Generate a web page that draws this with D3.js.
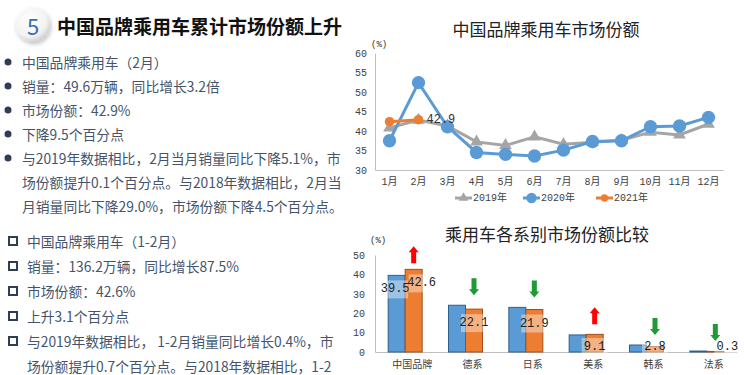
<!DOCTYPE html>
<html>
<head>
<meta charset="utf-8">
<script src="https://cdn.jsdelivr.net/npm/d3@7"></script>
<style>
  body { margin: 0; background: #fff; }
  svg { display: block; }
</style>
</head>
<body>
<div id="chart"></div>
<script>
// ---- data ----
var months = ["1月", "2月", "3月", "4月", "5月", "6月", "7月", "8月", "9月", "10月", "11月", "12月"];
var share2019 = [40.8, 42.8, 41.3, 37.2, 36.3, 38.5, 36.6, 37.1, 37.6, 39.7, 39.0, 41.8];
var share2020 = [37.5, 52.4, 41.1, 34.5, 34.0, 33.6, 35.1, 37.3, 37.5, 41.1, 41.3, 43.5];
var share2021 = [42.4, 42.9];
var lineTicks = [30, 35, 40, 45, 50, 55, 60];

var brands = ["中国品牌", "德系", "日系", "美系", "韩系", "法系"];
var prevShare = [39.5, 24.1, 23.0, 8.8, 3.6, 0.5];
var currShare = [42.6, 22.1, 21.9, 9.1, 2.8, 0.3];
var barTicks = [0, 10, 20, 30, 40, 50];

var bullets1 = ["中国品牌乘用车（2月）", "销量：49.6万辆，同比增长3.2倍", "市场份额：42.9%", "下降9.5个百分点",
  "与2019年数据相比，2月当月销量同比下降5.1%，市", "场份额提升0.1个百分点。与2018年数据相比，2月当", "月销量同比下降29.0%，市场份额下降4.5个百分点。"];
var bullets2 = ["中国品牌乘用车（1-2月）", "销量：136.2万辆，同比增长87.5%", "市场份额：42.6%", "上升3.1个百分点",
  "与2019年数据相比， 1-2月销量同比增长0.4%，市", "场份额提升0.7个百分点。与2018年数据相比，1-2"];
var bulletMark1 = [1, 1, 1, 1, 1, 0, 0];
var bulletMark2 = [1, 1, 1, 1, 1, 0];

var blue = "#5B9BD5", orange = "#ED7D31", gray = "#A5A5A5";
var cjk = "'Noto Sans CJK SC', 'Noto Sans', sans-serif";
var mono = "'Liberation Mono', 'Noto Sans CJK SC', monospace";

var svg = d3.select("#chart").append("svg")
    .attr("width", 744)
    .attr("height", 375);

// ---- left panel ----
var defs = svg.append("defs");
var grad = defs.append("radialGradient").attr("id", "ball").attr("cx", "40%").attr("cy", "35%").attr("r", "70%");
grad.append("stop").attr("offset", "0%").attr("stop-color", "#ffffff");
grad.append("stop").attr("offset", "70%").attr("stop-color", "#f2f2f2");
grad.append("stop").attr("offset", "100%").attr("stop-color", "#c8c8c8");
var shadow = defs.append("filter").attr("id", "sh").attr("x", "-50%").attr("y", "-50%").attr("width", "200%").attr("height", "200%");
shadow.append("feDropShadow").attr("dx", 1).attr("dy", 2).attr("stdDeviation", 2).attr("flood-color", "#000").attr("flood-opacity", 0.25);

svg.append("circle").attr("cx", 33).attr("cy", 25).attr("r", 17)
    .attr("fill", "url(#ball)").attr("filter", "url(#sh)");
svg.append("text").attr("x", 33).attr("y", 25)
    .attr("text-anchor", "middle").attr("dominant-baseline", "central")
    .attr("font-family", cjk).attr("font-size", 22).attr("fill", "#3B6FA8")
    .text("5");
svg.append("text").attr("x", 57).attr("y", 25)
    .attr("dominant-baseline", "central")
    .attr("font-family", cjk).attr("font-size", 19).attr("font-weight", "bold").attr("fill", "#111")
    .text("中国品牌乘用车累计市场份额上升");

var textColor = "#44546A";
var g1 = svg.append("g");
bullets1.forEach(function(t, i) {
    var yy = 62 + i * 24;
    if (bulletMark1[i]) {
        g1.append("circle").attr("cx", 8).attr("cy", yy).attr("r", 3.5).attr("fill", "#2F3E55");
    }
    g1.append("text").attr("x", 22).attr("y", yy).attr("dominant-baseline", "central")
        .attr("font-family", cjk).attr("font-size", 13.8).attr("fill", textColor).text(t);
});
var g2 = svg.append("g");
bullets2.forEach(function(t, i) {
    var yy = 241 + i * 25;
    if (bulletMark2[i]) {
        g2.append("rect").attr("x", 9).attr("y", yy - 4).attr("width", 8).attr("height", 8)
            .attr("fill", "none").attr("stroke", "#2F3E55").attr("stroke-width", 2);
    }
    g2.append("text").attr("x", 27).attr("y", yy).attr("dominant-baseline", "central")
        .attr("font-family", cjk).attr("font-size", 13.8).attr("fill", textColor).text(t);
});

// ---- line chart ----
var lx = d3.scaleBand().domain(months).range([375, 723]);
var lcx = function(m) { return lx(m) + lx.bandwidth() / 2; };
var ly = d3.scaleLinear().domain([30, 60]).range([170, 53]);

svg.append("text").attr("x", 546).attr("y", 28).attr("text-anchor", "middle").attr("dominant-baseline", "central")
    .attr("font-family", cjk).attr("font-size", 17).attr("fill", "#222").text("中国品牌乘用车市场份额");

var yAxisL = svg.append("g").attr("transform", "translate(375,0)")
    .call(d3.axisLeft(ly).tickValues(lineTicks).tickSize(0).tickPadding(8));
var xAxisL = svg.append("g").attr("transform", "translate(0,170)")
    .call(d3.axisBottom(lx).tickSize(0).tickPadding(8));
[yAxisL, xAxisL].forEach(function(a) {
    a.select(".domain").attr("stroke", "#BFBFBF");
    a.selectAll("text").attr("font-family", mono).attr("font-size", 10).attr("fill", "#404040");
});
svg.append("text").attr("x", 371).attr("y", 47).attr("font-family", mono).attr("font-size", 9)
    .attr("fill", "#333").text("(%)");

var line = d3.line().x(function(d, i) { return lcx(months[i]); }).y(function(d) { return ly(d); });
var series = [
    { name: "2019年", values: share2019, color: gray, shape: d3.symbolTriangle, size: 70 },
    { name: "2020年", values: share2020, color: blue, shape: d3.symbolCircle, size: 140 },
    { name: "2021年", values: share2021, color: orange, shape: d3.symbolCircle, size: 70 }
];
series.forEach(function(s) {
    svg.append("path").datum(s.values).attr("d", line)
        .attr("fill", "none").attr("stroke", s.color).attr("stroke-width", 3);
    svg.append("g").selectAll("path").data(s.values).enter().append("path")
        .attr("d", d3.symbol().type(s.shape).size(s.size))
        .attr("transform", function(d, i) { return "translate(" + lcx(months[i]) + "," + ly(d) + ")"; })
        .attr("fill", s.color);
});
svg.append("text")
    .attr("x", lcx(months[1]) + 8).attr("y", ly(share2021[1]))
    .attr("dominant-baseline", "central")
    .attr("font-family", mono).attr("font-size", 12).attr("fill", "#333")
    .text(share2021[1].toFixed(1));

// legend
var legX = [455, 523, 596];
series.forEach(function(s, i) {
    var lg = svg.append("g").attr("transform", "translate(" + legX[i] + ",198)");
    lg.append("line").attr("x1", 0).attr("x2", 17).attr("stroke", s.color).attr("stroke-width", 3);
    lg.append("path").attr("d", d3.symbol().type(s.shape).size(s.size * 0.6)).attr("transform", "translate(8.5,0)")
        .attr("fill", s.color);
    lg.append("text").attr("x", 18).attr("dominant-baseline", "central")
        .attr("font-family", mono).attr("font-size", 10).attr("fill", "#404040").text(s.name);
});

// ---- bar chart ----
var bx = d3.scaleBand().domain(brands).range([375, 737]);
var by = d3.scaleLinear().domain([0, 50]).range([352, 255]);
var bw = 17;

svg.append("text").attr("x", 547).attr("y", 233).attr("text-anchor", "middle").attr("dominant-baseline", "central")
    .attr("font-family", cjk).attr("font-size", 17).attr("fill", "#222").text("乘用车各系别市场份额比较");

var yAxisB = svg.append("g").attr("transform", "translate(375,0)")
    .call(d3.axisLeft(by).tickValues(barTicks).tickSize(0).tickPadding(10));
yAxisB.select(".domain").attr("stroke", "#BFBFBF");
yAxisB.selectAll("text").attr("font-family", mono).attr("font-size", 10).attr("fill", "#404040");
var xAxisB = svg.append("g").attr("transform", "translate(0,352)")
    .call(d3.axisBottom(bx).tickSize(0).tickPadding(9));
xAxisB.select(".domain").attr("stroke", "#BFBFBF");
xAxisB.selectAll("text").attr("dx", 7).attr("font-family", cjk).attr("font-size", 10).attr("fill", "#404040");
svg.append("text").attr("x", 370).attr("y", 243).attr("font-family", mono).attr("font-size", 9)
    .attr("fill", "#333").text("(%)");

var center = function(b) { return bx(b) + bx.bandwidth() / 2; };
svg.append("g").selectAll("rect").data(brands).enter().append("rect")
    .attr("x", function(b) { return center(b) - bw; })
    .attr("y", function(b, i) { return by(prevShare[i]); })
    .attr("width", bw)
    .attr("height", function(b, i) { return 352 - by(prevShare[i]); })
    .attr("fill", blue).attr("stroke", "#2E5F8E").attr("stroke-width", 1);
svg.append("g").selectAll("rect").data(brands).enter().append("rect")
    .attr("x", function(b) { return center(b); })
    .attr("y", function(b, i) { return by(currShare[i]); })
    .attr("width", bw)
    .attr("height", function(b, i) { return 352 - by(currShare[i]); })
    .attr("fill", orange).attr("stroke", "#A04E15").attr("stroke-width", 1);

// value labels
function barLabel(x, v) {
    var yy = Math.min(by(v) + 14, 347);
    svg.append("rect").attr("x", x - 13).attr("y", yy - 9).attr("width", 26).attr("height", 18)
        .attr("fill", "#fff").attr("opacity", 0.4);
    svg.append("text").attr("x", x).attr("y", yy).attr("text-anchor", "middle").attr("dominant-baseline", "central")
        .attr("font-family", mono).attr("font-size", 12).attr("fill", "#222").text(v.toFixed(1));
}
barLabel(center(brands[0]) - 10, prevShare[0]);
brands.forEach(function(b, i) {
    var off = i === 0 ? 8 : (currShare[i] < 1 ? 12 : 0);
    barLabel(center(b) + bw / 2 + off, currShare[i]);
});

// change arrows
brands.forEach(function(b, i) {
    var up = currShare[i] > prevShare[i];
    var col = up ? "#FF0000" : "#1E9B35";
    var cx = center(b) + bw / 2;
    var bottom = by(Math.max(prevShare[i], currShare[i])) - (i === 0 ? 6 : 10);
    var top = bottom - 17;
    var pts = up
        ? [[cx - 2.5, bottom], [cx - 2.5, top + 6], [cx - 5, top + 6], [cx, top], [cx + 5, top + 6], [cx + 2.5, top + 6], [cx + 2.5, bottom]]
        : [[cx - 2.5, top], [cx - 2.5, bottom - 6], [cx - 5, bottom - 6], [cx, bottom], [cx + 5, bottom - 6], [cx + 2.5, bottom - 6], [cx + 2.5, top]];
    svg.append("polygon").attr("points", pts.map(function(p) { return p.join(","); }).join(" "))
        .attr("fill", col);
});
</script>
</body>
</html>
